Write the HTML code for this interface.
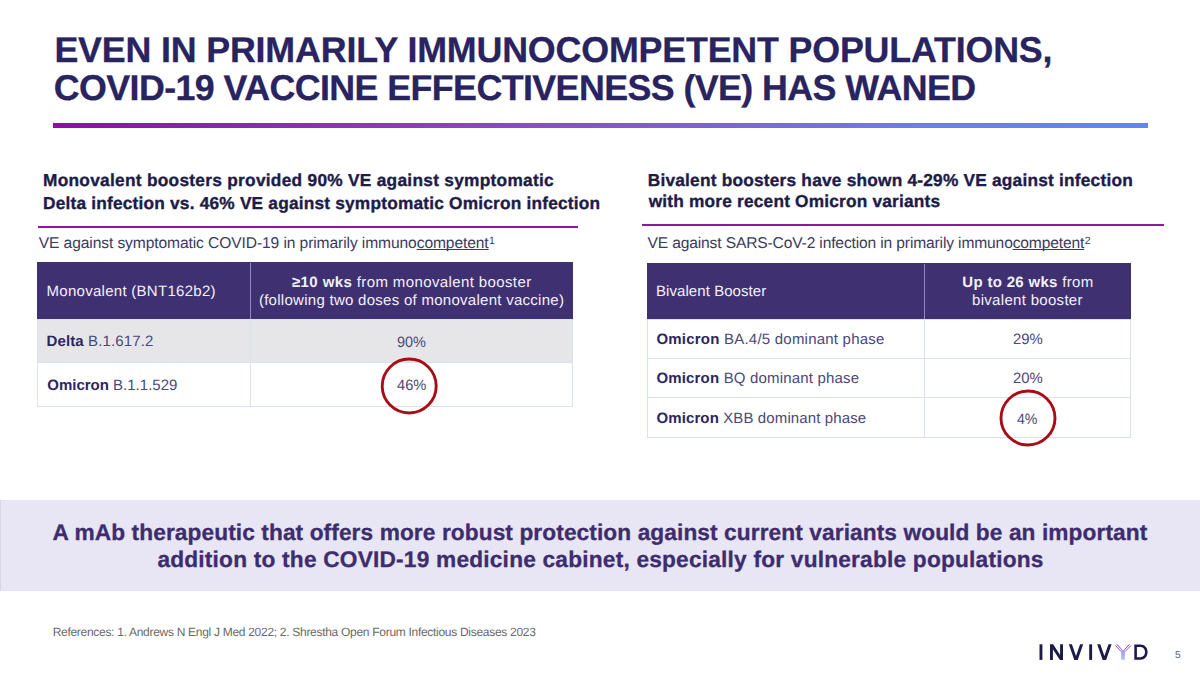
<!DOCTYPE html>
<html><head><meta charset="utf-8"><style>
html,body{margin:0;padding:0;background:#fff;}
body{width:1200px;height:675px;position:relative;overflow:hidden;font-family:"Liberation Sans",sans-serif;text-rendering:geometricPrecision;}
.t{position:absolute;white-space:nowrap;}
.u{text-decoration:underline;text-underline-offset:1px;text-decoration-thickness:1px;text-decoration-skip-ink:none;}
.sup{font-size:10.5px;line-height:10px;vertical-align:top;position:relative;top:0.5px;left:0.5px;letter-spacing:0}
b{font-weight:700;}
</style></head><body>
<div style="position:absolute;left:53px;top:123px;width:1095px;height:4.6px;background:linear-gradient(90deg,#8d0fa3 0%,#8a4fc4 45%,#6c7fe6 80%,#5f86f2 100%);"></div>
<div style="position:absolute;left:38px;top:226px;width:540px;height:2px;background:#8c1a9d;"></div>
<div style="position:absolute;left:642px;top:224px;width:522px;height:2px;background:#8c1a9d;"></div>
<div style="position:absolute;left:37px;top:262px;width:536px;height:145px;background:#fff;box-sizing:border-box;border:1px solid #dce0f5"></div>
<div style="position:absolute;left:38px;top:320px;width:534px;height:42px;background:#e6e6e9;"></div>
<div style="position:absolute;left:37px;top:319px;width:536px;height:1px;background:#dce0f5;"></div>
<div style="position:absolute;left:37px;top:362px;width:536px;height:1px;background:#dce0f5;"></div>
<div style="position:absolute;left:250px;top:319px;width:1px;height:88px;background:#dce0f5;"></div>
<div style="position:absolute;left:37px;top:262px;width:536px;height:57px;background:#3f3171;"></div>
<div style="position:absolute;left:250px;top:263px;width:1px;height:56px;background:#9088c8;"></div>
<div style="position:absolute;left:647px;top:263px;width:484px;height:175px;background:#fff;box-sizing:border-box;border:1px solid #dce0f5"></div>
<div style="position:absolute;left:647px;top:319px;width:484px;height:1px;background:#dce0f5;"></div>
<div style="position:absolute;left:647px;top:358px;width:484px;height:1px;background:#dce0f5;"></div>
<div style="position:absolute;left:647px;top:397px;width:484px;height:1px;background:#dce0f5;"></div>
<div style="position:absolute;left:924px;top:319px;width:1px;height:119px;background:#dce0f5;"></div>
<div style="position:absolute;left:647px;top:263px;width:484px;height:56px;background:#3f3171;"></div>
<div style="position:absolute;left:924px;top:264px;width:1px;height:55px;background:#9088c8;"></div>
<div style="position:absolute;left:0px;top:500px;width:1200px;height:91px;background:#e8e5f5;"></div>
<div style="position:absolute;left:0px;top:500px;width:1px;height:91px;background:#d8d6e6;"></div>
<div class="t" style="left:54.40px;top:32.57px;font-size:35.8px;line-height:35.8px;font-weight:700;color:#29235f;letter-spacing:-0.169px;-webkit-text-stroke:0.30px #29235f;">EVEN IN PRIMARILY IMMUNOCOMPETENT POPULATIONS,</div>
<div class="t" style="left:53.70px;top:70.57px;font-size:35.8px;line-height:35.8px;font-weight:700;color:#29235f;letter-spacing:-0.582px;-webkit-text-stroke:0.30px #29235f;">COVID-19 VACCINE EFFECTIVENESS (VE) HAS WANED</div>
<div class="t" style="left:43.00px;top:172.29px;font-size:17.3px;line-height:17.3px;font-weight:700;color:#1d1b47;letter-spacing:0.281px;-webkit-text-stroke:0.35px #1d1b47;">Monovalent boosters provided 90% VE against symptomatic</div>
<div class="t" style="left:43.00px;top:195.29px;font-size:17.3px;line-height:17.3px;font-weight:700;color:#1d1b47;letter-spacing:0.200px;-webkit-text-stroke:0.35px #1d1b47;">Delta infection vs. 46% VE against symptomatic Omicron infection</div>
<div class="t" style="left:647.70px;top:172.29px;font-size:17.3px;line-height:17.3px;font-weight:700;color:#1d1b47;letter-spacing:0.215px;-webkit-text-stroke:0.35px #1d1b47;">Bivalent boosters have shown 4-29% VE against infection</div>
<div class="t" style="left:648.70px;top:193.29px;font-size:17.3px;line-height:17.3px;font-weight:700;color:#1d1b47;letter-spacing:0.194px;-webkit-text-stroke:0.35px #1d1b47;">with more recent Omicron variants</div>
<div class="t" style="left:38.75px;top:235.74px;font-size:15.6px;line-height:15.6px;font-weight:400;color:#3b3a5e;letter-spacing:-0.100px;">VE against symptomatic COVID-19 in primarily immuno<span class="u">competent</span><span class="sup">1</span></div>
<div class="t" style="left:647.50px;top:235.74px;font-size:15.6px;line-height:15.6px;font-weight:400;color:#3b3a5e;letter-spacing:-0.147px;">VE against SARS-CoV-2 infection in primarily immuno<span class="u">competent</span><span class="sup">2</span></div>
<div class="t" style="left:46.50px;top:283.83px;font-size:15.0px;line-height:15.0px;font-weight:400;color:#f2f0fa;letter-spacing:0.280px;">Monovalent (BNT162b2)</div>
<div class="t" style="left:292.00px;top:274.83px;font-size:15.0px;line-height:15.0px;font-weight:400;color:#f2f0fa;letter-spacing:0.387px;"><b>≥10 wks</b> from monovalent booster</div>
<div class="t" style="left:258.90px;top:292.83px;font-size:15.0px;line-height:15.0px;font-weight:400;color:#f2f0fa;letter-spacing:0.276px;">(following two doses of monovalent vaccine)</div>
<div class="t" style="left:46.50px;top:333.83px;font-size:15.0px;line-height:15.0px;font-weight:400;color:#4a4878;letter-spacing:0.129px;"><b style="color:#2d265f">Delta</b> B.1.617.2</div>
<div class="t" style="left:396.90px;top:334.83px;font-size:15.0px;line-height:15.0px;font-weight:400;color:#4a4878;letter-spacing:0.000px;transform:scaleX(0.9634);transform-origin:0 0;">90%</div>
<div class="t" style="left:47.25px;top:377.83px;font-size:15.0px;line-height:15.0px;font-weight:400;color:#4a4878;letter-spacing:0.000px;"><b style="color:#2d265f">Omicron</b> B.1.1.529</div>
<div class="t" style="left:397.00px;top:377.83px;font-size:15.0px;line-height:15.0px;font-weight:400;color:#4a4878;letter-spacing:0.000px;transform:scaleX(0.9783);transform-origin:0 0;">46%</div>
<div class="t" style="left:656.00px;top:283.83px;font-size:15.0px;line-height:15.0px;font-weight:400;color:#f2f0fa;letter-spacing:0.067px;">Bivalent Booster</div>
<div class="t" style="left:962.30px;top:274.83px;font-size:15.0px;line-height:15.0px;font-weight:400;color:#f2f0fa;letter-spacing:0.312px;"><b>Up to 26 wks</b> from</div>
<div class="t" style="left:972.00px;top:292.83px;font-size:15.0px;line-height:15.0px;font-weight:400;color:#f2f0fa;letter-spacing:0.307px;">bivalent booster</div>
<div class="t" style="left:656.40px;top:331.83px;font-size:15.0px;line-height:15.0px;font-weight:400;color:#4a4878;letter-spacing:0.221px;"><b style="color:#2d265f">Omicron</b> BA.4/5 dominant phase</div>
<div class="t" style="left:1013.00px;top:331.83px;font-size:15.0px;line-height:15.0px;font-weight:400;color:#4a4878;letter-spacing:0.000px;transform:scaleX(0.9921);transform-origin:0 0;">29%</div>
<div class="t" style="left:656.40px;top:370.83px;font-size:15.0px;line-height:15.0px;font-weight:400;color:#4a4878;letter-spacing:0.175px;"><b style="color:#2d265f">Omicron</b> BQ dominant phase</div>
<div class="t" style="left:1013.00px;top:370.83px;font-size:15.0px;line-height:15.0px;font-weight:400;color:#4a4878;letter-spacing:0.000px;transform:scaleX(0.9921);transform-origin:0 0;">20%</div>
<div class="t" style="left:656.40px;top:410.83px;font-size:15.0px;line-height:15.0px;font-weight:400;color:#4a4878;letter-spacing:0.120px;"><b style="color:#2d265f">Omicron</b> XBB dominant phase</div>
<div class="t" style="left:1017.40px;top:411.83px;font-size:15.0px;line-height:15.0px;font-weight:400;color:#4a4878;letter-spacing:0.000px;transform:scaleX(0.9426);transform-origin:0 0;">4%</div>
<div class="t" style="left:52.50px;top:520.70px;font-size:22.7px;line-height:22.7px;font-weight:700;color:#3d2d6d;letter-spacing:0.092px;-webkit-text-stroke:0.30px #3d2d6d;">A mAb therapeutic that offers more robust protection against current variants would be an important</div>
<div class="t" style="left:157.40px;top:547.70px;font-size:22.7px;line-height:22.7px;font-weight:700;color:#3d2d6d;letter-spacing:0.205px;-webkit-text-stroke:0.30px #3d2d6d;">addition to the COVID-19 medicine cabinet, especially for vulnerable populations</div>
<div class="t" style="left:52.70px;top:625.80px;font-size:12px;line-height:12px;font-weight:400;color:#6a6a6a;letter-spacing:-0.293px;">References: 1. Andrews N Engl J Med 2022; 2. Shrestha Open Forum Infectious Diseases 2023</div>
<div class="t" style="left:1175.00px;top:651.08px;font-size:10.2px;line-height:10.2px;font-weight:400;color:#5c5b86;letter-spacing:0.000px;">5</div>
<svg style="position:absolute;left:0;top:0" width="1200" height="675"><circle cx="409.2" cy="386" r="27" fill="none" stroke="#a80c16" stroke-width="2.9"/><circle cx="1028" cy="418" r="27" fill="none" stroke="#a80c16" stroke-width="2.9"/></svg>
<svg style="position:absolute;left:0;top:0" width="1200" height="675">
<defs><linearGradient id="ya" x1="0" y1="644" x2="0" y2="652" gradientUnits="userSpaceOnUse"><stop offset="0" stop-color="#8a28a8"/><stop offset="1" stop-color="#8a60c8"/></linearGradient><linearGradient id="ys" x1="0" y1="650" x2="0" y2="660" gradientUnits="userSpaceOnUse"><stop offset="0" stop-color="#a890e0"/><stop offset="1" stop-color="#b4c4fc"/></linearGradient></defs>
<g fill="#1c1a48">
<rect x="1039.5" y="644.3" width="2.9" height="15.6"/>
<polygon points="1050,644.3 1053.1,644.3 1060.1,654.9 1060.1,644.3 1063,644.3 1063,659.9 1059.9,659.9 1052.9,649.3 1052.9,659.9 1050,659.9"/>
<polygon points="1068.8,644.3 1071.9,644.3 1076,655.9 1080.1,644.3 1083.2,644.3 1077.7,659.9 1074.3,659.9"/>
<rect x="1089.2" y="644.3" width="2.9" height="15.6"/>
<polygon points="1097.2,644.3 1100.3,644.3 1104.4,655.9 1108.5,644.3 1111.6,644.3 1106.1,659.9 1102.7,659.9"/>
<path fill-rule="evenodd" d="M1134.3,644.4 H1140.3 C1144.8,644.4 1147.6,647.6 1147.6,652.1 C1147.6,656.6 1144.8,659.8 1140.3,659.8 H1134.3 Z M1136.9,646.9 H1140.2 C1143.2,646.9 1145,649.1 1145,652.1 C1145,655.1 1143.2,657.3 1140.2,657.3 H1136.9 Z"/>
</g>
<g stroke="url(#ya)" stroke-width="0.95" fill="none">
<path d="M1115.4,645.5 L1121.6,651.9 M1116.9,644.3 L1122.7,650.6 M1130.9,645.6 L1124.7,651.9 M1129.4,644.4 L1123.6,650.6"/>
</g>
<rect x="1121.2" y="650.4" width="3.7" height="9.4" fill="url(#ys)"/>
</svg>
</body></html>
